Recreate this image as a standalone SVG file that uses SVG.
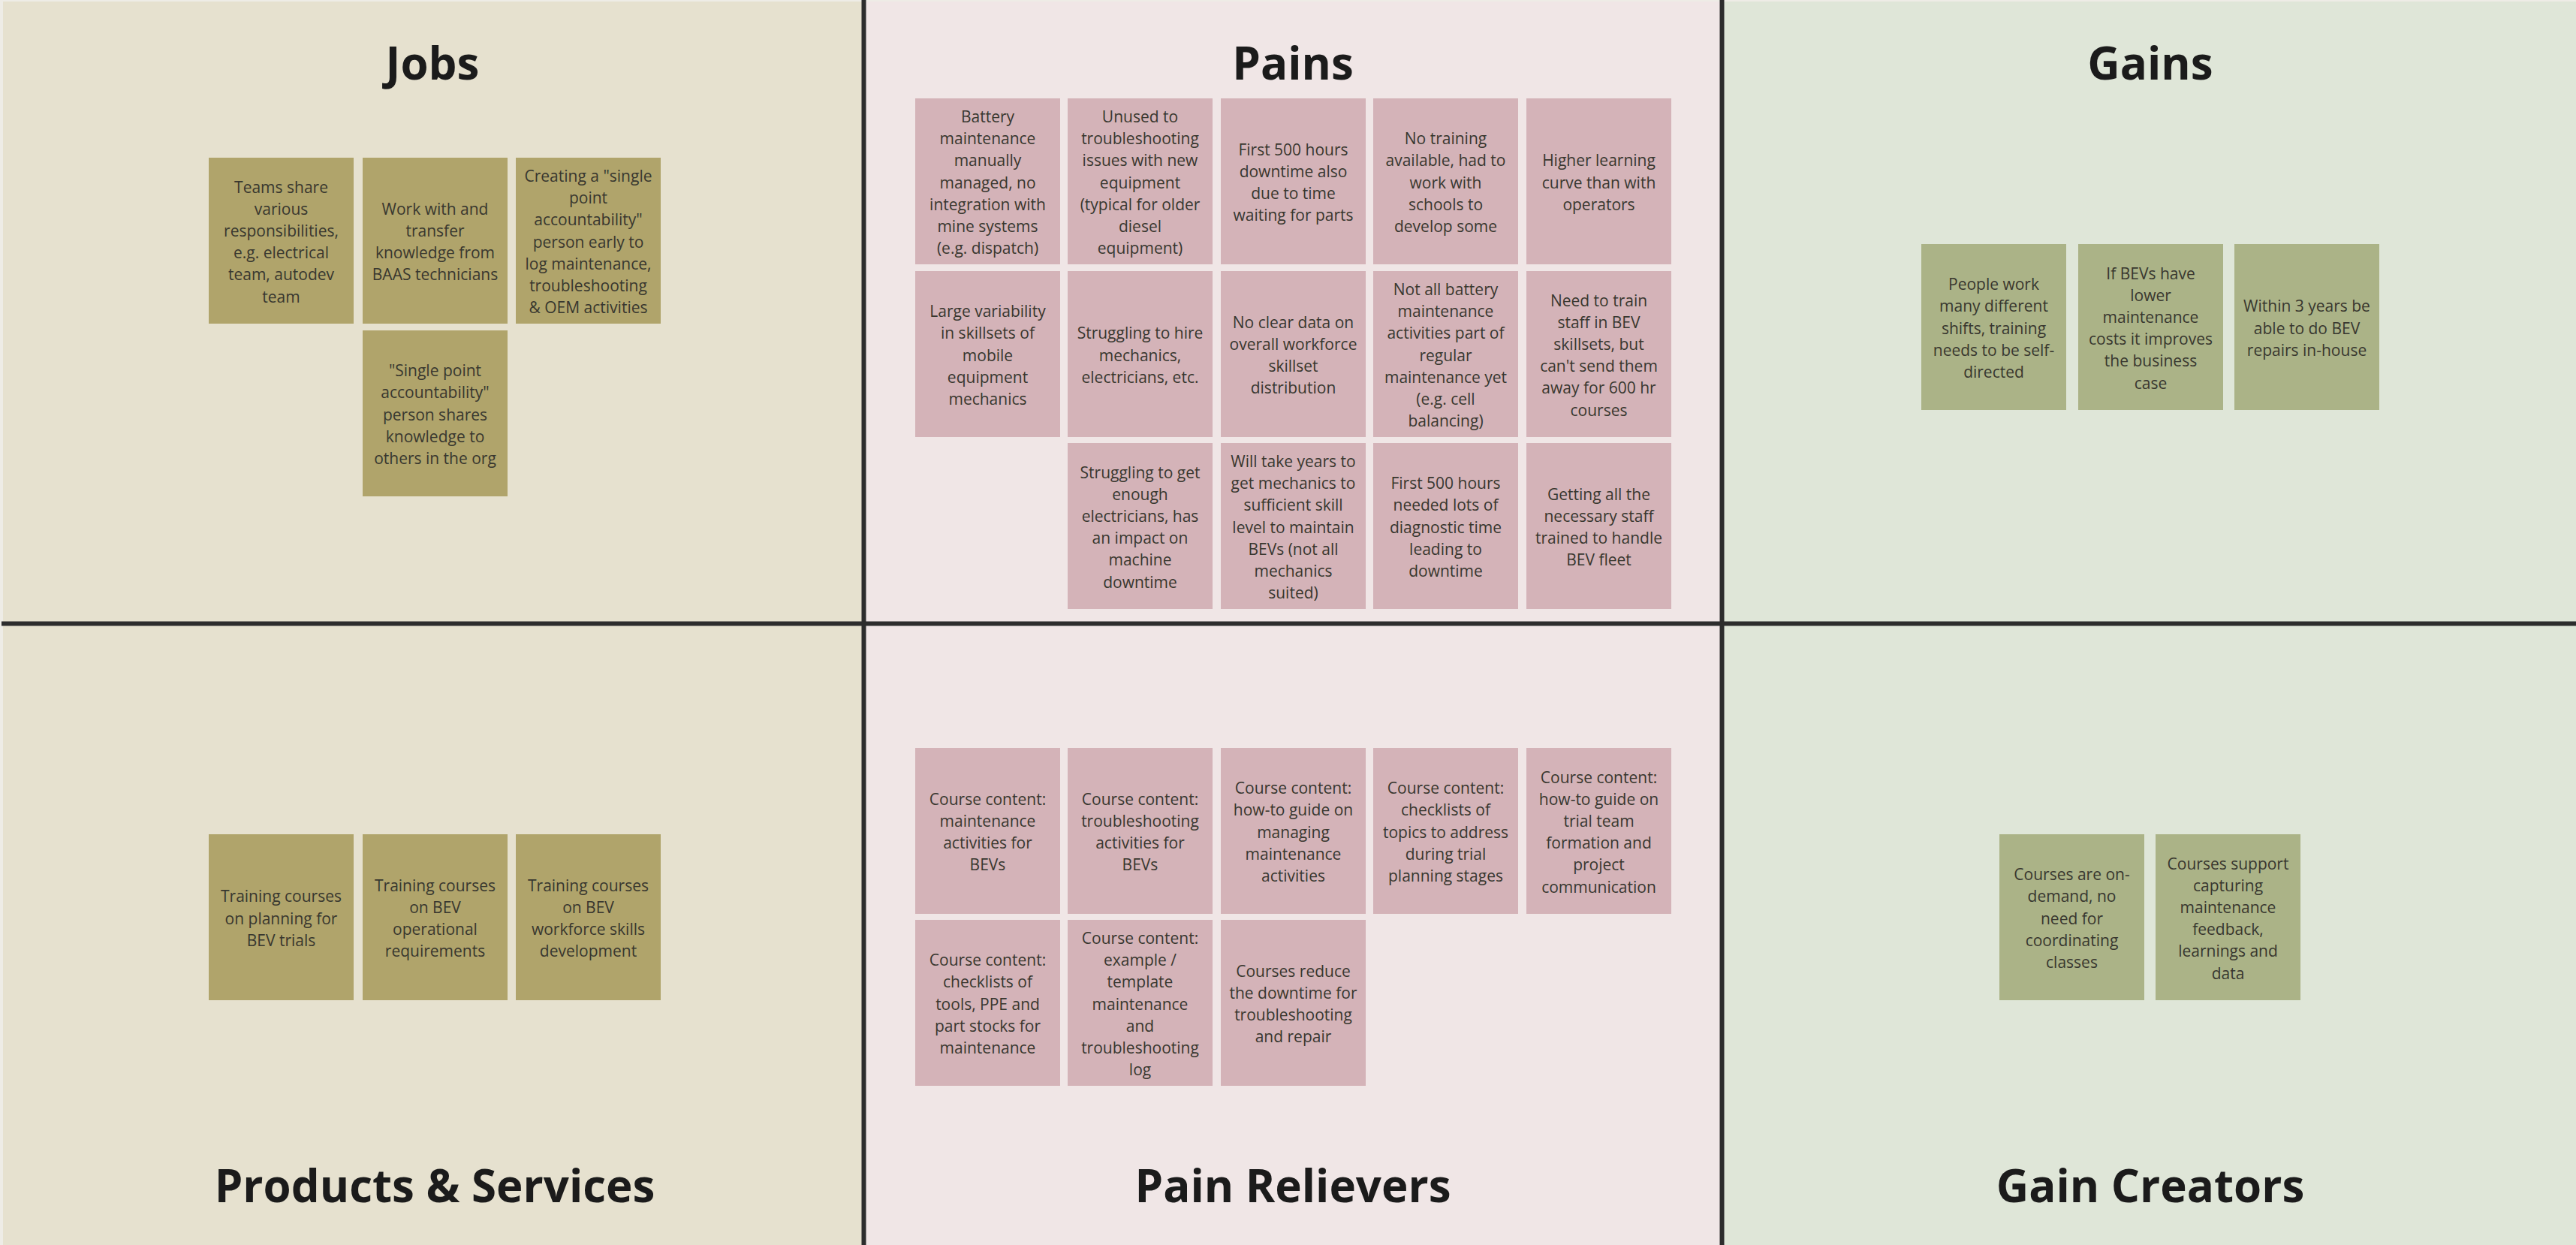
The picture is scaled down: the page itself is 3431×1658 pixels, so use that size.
<svg xmlns="http://www.w3.org/2000/svg" width="3431" height="1658" viewBox="0 0 3431 1658">
<style>
.title{font-family:"Open Sans","Liberation Sans",sans-serif;font-weight:700;font-size:60px;fill:#1b1b1b;text-anchor:middle}
.note text{font-family:"Open Sans","Liberation Sans",sans-serif;font-size:21px;fill:#38372f;text-anchor:middle}
.jobs rect{fill:#b0a46b}
.pains rect{fill:#d4b3b8}
.gains rect{fill:#abb387}
.divider{stroke:#2d2d2d;stroke-width:6;fill:none}
</style>
<rect x="0" y="0" width="3431" height="1658" fill="#eeece6"/>
<g id="backgrounds">
<rect x="4" y="2" width="1147" height="1656" fill="#e6e1cf"/>
<rect x="1151" y="2" width="1143" height="1656" fill="#f0e6e6"/>
<rect x="2294" y="2" width="1137" height="1656" fill="#dfe6d8"/>
</g>
<g id="titles">
<text class="title" x="576" y="106">Jobs</text>
<text class="title" x="1722" y="106">Pains</text>
<text class="title" x="2864" y="106">Gains</text>
<text class="title" x="579" y="1601">Products &amp; Services</text>
<text class="title" x="1722" y="1601">Pain Relievers</text>
<text class="title" x="2864" y="1601">Gain Creators</text>
</g>
<g id="connectors">
<line class="divider" x1="1150.5" y1="0" x2="1150.5" y2="1658"/>
<line class="divider" x1="2293.5" y1="0" x2="2293.5" y2="1658"/>
<line class="divider" x1="2" y1="830.5" x2="3431" y2="830.5"/>
</g>

<!-- Jobs -->
<g id="job1" class="note jobs" transform="translate(278,210)"><rect width="193" height="221"/><text x="96.5"><tspan x="96.5" y="46.5">Teams share</tspan><tspan x="96.5" y="75.7">various</tspan><tspan x="96.5" y="104.9">responsibilities,</tspan><tspan x="96.5" y="134.1">e.g. electrical</tspan><tspan x="96.5" y="163.3">team, autodev</tspan><tspan x="96.5" y="192.5">team</tspan></text></g>
<g id="job2" class="note jobs" transform="translate(483,210)"><rect width="193" height="221"/><text x="96.5"><tspan x="96.5" y="75.7">Work with and</tspan><tspan x="96.5" y="104.9">transfer</tspan><tspan x="96.5" y="134.1">knowledge from</tspan><tspan x="96.5" y="163.3">BAAS technicians</tspan></text></g>
<g id="job3" class="note jobs" transform="translate(687,210)"><rect width="193" height="221"/><text x="96.5"><tspan x="96.5" y="31.9">Creating a "single</tspan><tspan x="96.5" y="61.1">point</tspan><tspan x="96.5" y="90.3">accountability"</tspan><tspan x="96.5" y="119.5">person early to</tspan><tspan x="96.5" y="148.7">log maintenance,</tspan><tspan x="96.5" y="177.9">troubleshooting</tspan><tspan x="96.5" y="207.1">&amp; OEM activities</tspan></text></g>
<g id="job4" class="note jobs" transform="translate(483,440)"><rect width="193" height="221"/><text x="96.5"><tspan x="96.5" y="61.1">"Single point</tspan><tspan x="96.5" y="90.3">accountability"</tspan><tspan x="96.5" y="119.5">person shares</tspan><tspan x="96.5" y="148.7">knowledge to</tspan><tspan x="96.5" y="177.9">others in the org</tspan></text></g>

<!-- Pains row 1 -->
<g id="pain1" class="note pains" transform="translate(1219,131)"><rect width="193" height="221"/><text x="96.5"><tspan x="96.5" y="31.9">Battery</tspan><tspan x="96.5" y="61.1">maintenance</tspan><tspan x="96.5" y="90.3">manually</tspan><tspan x="96.5" y="119.5">managed, no</tspan><tspan x="96.5" y="148.7">integration with</tspan><tspan x="96.5" y="177.9">mine systems</tspan><tspan x="96.5" y="207.1">(e.g. dispatch)</tspan></text></g>
<g id="pain2" class="note pains" transform="translate(1422,131)"><rect width="193" height="221"/><text x="96.5"><tspan x="96.5" y="31.9">Unused to</tspan><tspan x="96.5" y="61.1">troubleshooting</tspan><tspan x="96.5" y="90.3">issues with new</tspan><tspan x="96.5" y="119.5">equipment</tspan><tspan x="96.5" y="148.7">(typical for older</tspan><tspan x="96.5" y="177.9">diesel</tspan><tspan x="96.5" y="207.1">equipment)</tspan></text></g>
<g id="pain3" class="note pains" transform="translate(1626,131)"><rect width="193" height="221"/><text x="96.5"><tspan x="96.5" y="75.7">First 500 hours</tspan><tspan x="96.5" y="104.9">downtime also</tspan><tspan x="96.5" y="134.1">due to time</tspan><tspan x="96.5" y="163.3">waiting for parts</tspan></text></g>
<g id="pain4" class="note pains" transform="translate(1829,131)"><rect width="193" height="221"/><text x="96.5"><tspan x="96.5" y="61.1">No training</tspan><tspan x="96.5" y="90.3">available, had to</tspan><tspan x="96.5" y="119.5">work with</tspan><tspan x="96.5" y="148.7">schools to</tspan><tspan x="96.5" y="177.9">develop some</tspan></text></g>
<g id="pain5" class="note pains" transform="translate(2033,131)"><rect width="193" height="221"/><text x="96.5"><tspan x="96.5" y="90.3">Higher learning</tspan><tspan x="96.5" y="119.5">curve than with</tspan><tspan x="96.5" y="148.7">operators</tspan></text></g>
<!-- Pains row 2 -->
<g id="pain6" class="note pains" transform="translate(1219,361)"><rect width="193" height="221"/><text x="96.5"><tspan x="96.5" y="61.1">Large variability</tspan><tspan x="96.5" y="90.3">in skillsets of</tspan><tspan x="96.5" y="119.5">mobile</tspan><tspan x="96.5" y="148.7">equipment</tspan><tspan x="96.5" y="177.9">mechanics</tspan></text></g>
<g id="pain7" class="note pains" transform="translate(1422,361)"><rect width="193" height="221"/><text x="96.5"><tspan x="96.5" y="90.3">Struggling to hire</tspan><tspan x="96.5" y="119.5">mechanics,</tspan><tspan x="96.5" y="148.7">electricians, etc.</tspan></text></g>
<g id="pain8" class="note pains" transform="translate(1626,361)"><rect width="193" height="221"/><text x="96.5"><tspan x="96.5" y="75.7">No clear data on</tspan><tspan x="96.5" y="104.9">overall workforce</tspan><tspan x="96.5" y="134.1">skillset</tspan><tspan x="96.5" y="163.3">distribution</tspan></text></g>
<g id="pain9" class="note pains" transform="translate(1829,361)"><rect width="193" height="221"/><text x="96.5"><tspan x="96.5" y="31.9">Not all battery</tspan><tspan x="96.5" y="61.1">maintenance</tspan><tspan x="96.5" y="90.3">activities part of</tspan><tspan x="96.5" y="119.5">regular</tspan><tspan x="96.5" y="148.7">maintenance yet</tspan><tspan x="96.5" y="177.9">(e.g. cell</tspan><tspan x="96.5" y="207.1">balancing)</tspan></text></g>
<g id="pain10" class="note pains" transform="translate(2033,361)"><rect width="193" height="221"/><text x="96.5"><tspan x="96.5" y="46.5">Need to train</tspan><tspan x="96.5" y="75.7">staff in BEV</tspan><tspan x="96.5" y="104.9">skillsets, but</tspan><tspan x="96.5" y="134.1">can't send them</tspan><tspan x="96.5" y="163.3">away for 600 hr</tspan><tspan x="96.5" y="192.5">courses</tspan></text></g>
<!-- Pains row 3 -->
<g id="pain11" class="note pains" transform="translate(1422,590)"><rect width="193" height="221"/><text x="96.5"><tspan x="96.5" y="46.5">Struggling to get</tspan><tspan x="96.5" y="75.7">enough</tspan><tspan x="96.5" y="104.9">electricians, has</tspan><tspan x="96.5" y="134.1">an impact on</tspan><tspan x="96.5" y="163.3">machine</tspan><tspan x="96.5" y="192.5">downtime</tspan></text></g>
<g id="pain12" class="note pains" transform="translate(1626,590)"><rect width="193" height="221"/><text x="96.5"><tspan x="96.5" y="31.9">Will take years to</tspan><tspan x="96.5" y="61.1">get mechanics to</tspan><tspan x="96.5" y="90.3">sufficient skill</tspan><tspan x="96.5" y="119.5">level to maintain</tspan><tspan x="96.5" y="148.7">BEVs (not all</tspan><tspan x="96.5" y="177.9">mechanics</tspan><tspan x="96.5" y="207.1">suited)</tspan></text></g>
<g id="pain13" class="note pains" transform="translate(1829,590)"><rect width="193" height="221"/><text x="96.5"><tspan x="96.5" y="61.1">First 500 hours</tspan><tspan x="96.5" y="90.3">needed lots of</tspan><tspan x="96.5" y="119.5">diagnostic time</tspan><tspan x="96.5" y="148.7">leading to</tspan><tspan x="96.5" y="177.9">downtime</tspan></text></g>
<g id="pain14" class="note pains" transform="translate(2033,590)"><rect width="193" height="221"/><text x="96.5"><tspan x="96.5" y="75.7">Getting all the</tspan><tspan x="96.5" y="104.9">necessary staff</tspan><tspan x="96.5" y="134.1">trained to handle</tspan><tspan x="96.5" y="163.3">BEV fleet</tspan></text></g>

<!-- Gains -->
<g id="gain1" class="note gains" transform="translate(2559,325)"><rect width="193" height="221"/><text x="96.5"><tspan x="96.5" y="61.1">People work</tspan><tspan x="96.5" y="90.3">many different</tspan><tspan x="96.5" y="119.5">shifts, training</tspan><tspan x="96.5" y="148.7">needs to be self-</tspan><tspan x="96.5" y="177.9">directed</tspan></text></g>
<g id="gain2" class="note gains" transform="translate(2768,325)"><rect width="193" height="221"/><text x="96.5"><tspan x="96.5" y="46.5">If BEVs have</tspan><tspan x="96.5" y="75.7">lower</tspan><tspan x="96.5" y="104.9">maintenance</tspan><tspan x="96.5" y="134.1">costs it improves</tspan><tspan x="96.5" y="163.3">the business</tspan><tspan x="96.5" y="192.5">case</tspan></text></g>
<g id="gain3" class="note gains" transform="translate(2976,325)"><rect width="193" height="221"/><text x="96.5"><tspan x="96.5" y="90.3">Within 3 years be</tspan><tspan x="96.5" y="119.5">able to do BEV</tspan><tspan x="96.5" y="148.7">repairs in-house</tspan></text></g>

<!-- Products & Services -->
<g id="prod1" class="note jobs" transform="translate(278,1111)"><rect width="193" height="221"/><text x="96.5"><tspan x="96.5" y="90.3">Training courses</tspan><tspan x="96.5" y="119.5">on planning for</tspan><tspan x="96.5" y="148.7">BEV trials</tspan></text></g>
<g id="prod2" class="note jobs" transform="translate(483,1111)"><rect width="193" height="221"/><text x="96.5"><tspan x="96.5" y="75.7">Training courses</tspan><tspan x="96.5" y="104.9">on BEV</tspan><tspan x="96.5" y="134.1">operational</tspan><tspan x="96.5" y="163.3">requirements</tspan></text></g>
<g id="prod3" class="note jobs" transform="translate(687,1111)"><rect width="193" height="221"/><text x="96.5"><tspan x="96.5" y="75.7">Training courses</tspan><tspan x="96.5" y="104.9">on BEV</tspan><tspan x="96.5" y="134.1">workforce skills</tspan><tspan x="96.5" y="163.3">development</tspan></text></g>

<!-- Pain Relievers row 1 -->
<g id="relief1" class="note pains" transform="translate(1219,996)"><rect width="193" height="221"/><text x="96.5"><tspan x="96.5" y="75.7">Course content:</tspan><tspan x="96.5" y="104.9">maintenance</tspan><tspan x="96.5" y="134.1">activities for</tspan><tspan x="96.5" y="163.3">BEVs</tspan></text></g>
<g id="relief2" class="note pains" transform="translate(1422,996)"><rect width="193" height="221"/><text x="96.5"><tspan x="96.5" y="75.7">Course content:</tspan><tspan x="96.5" y="104.9">troubleshooting</tspan><tspan x="96.5" y="134.1">activities for</tspan><tspan x="96.5" y="163.3">BEVs</tspan></text></g>
<g id="relief3" class="note pains" transform="translate(1626,996)"><rect width="193" height="221"/><text x="96.5"><tspan x="96.5" y="61.1">Course content:</tspan><tspan x="96.5" y="90.3">how-to guide on</tspan><tspan x="96.5" y="119.5">managing</tspan><tspan x="96.5" y="148.7">maintenance</tspan><tspan x="96.5" y="177.9">activities</tspan></text></g>
<g id="relief4" class="note pains" transform="translate(1829,996)"><rect width="193" height="221"/><text x="96.5"><tspan x="96.5" y="61.1">Course content:</tspan><tspan x="96.5" y="90.3">checklists of</tspan><tspan x="96.5" y="119.5">topics to address</tspan><tspan x="96.5" y="148.7">during trial</tspan><tspan x="96.5" y="177.9">planning stages</tspan></text></g>
<g id="relief5" class="note pains" transform="translate(2033,996)"><rect width="193" height="221"/><text x="96.5"><tspan x="96.5" y="46.5">Course content:</tspan><tspan x="96.5" y="75.7">how-to guide on</tspan><tspan x="96.5" y="104.9">trial team</tspan><tspan x="96.5" y="134.1">formation and</tspan><tspan x="96.5" y="163.3">project</tspan><tspan x="96.5" y="192.5">communication</tspan></text></g>
<!-- Pain Relievers row 2 -->
<g id="relief6" class="note pains" transform="translate(1219,1225)"><rect width="193" height="221"/><text x="96.5"><tspan x="96.5" y="61.1">Course content:</tspan><tspan x="96.5" y="90.3">checklists of</tspan><tspan x="96.5" y="119.5">tools, PPE and</tspan><tspan x="96.5" y="148.7">part stocks for</tspan><tspan x="96.5" y="177.9">maintenance</tspan></text></g>
<g id="relief7" class="note pains" transform="translate(1422,1225)"><rect width="193" height="221"/><text x="96.5"><tspan x="96.5" y="31.9">Course content:</tspan><tspan x="96.5" y="61.1">example /</tspan><tspan x="96.5" y="90.3">template</tspan><tspan x="96.5" y="119.5">maintenance</tspan><tspan x="96.5" y="148.7">and</tspan><tspan x="96.5" y="177.9">troubleshooting</tspan><tspan x="96.5" y="207.1">log</tspan></text></g>
<g id="relief8" class="note pains" transform="translate(1626,1225)"><rect width="193" height="221"/><text x="96.5"><tspan x="96.5" y="75.7">Courses reduce</tspan><tspan x="96.5" y="104.9">the downtime for</tspan><tspan x="96.5" y="134.1">troubleshooting</tspan><tspan x="96.5" y="163.3">and repair</tspan></text></g>

<!-- Gain Creators -->
<g id="creator1" class="note gains" transform="translate(2663,1111)"><rect width="193" height="221"/><text x="96.5"><tspan x="96.5" y="61.1">Courses are on-</tspan><tspan x="96.5" y="90.3">demand, no</tspan><tspan x="96.5" y="119.5">need for</tspan><tspan x="96.5" y="148.7">coordinating</tspan><tspan x="96.5" y="177.9">classes</tspan></text></g>
<g id="creator2" class="note gains" transform="translate(2871,1111)"><rect width="193" height="221"/><text x="96.5"><tspan x="96.5" y="46.5">Courses support</tspan><tspan x="96.5" y="75.7">capturing</tspan><tspan x="96.5" y="104.9">maintenance</tspan><tspan x="96.5" y="134.1">feedback,</tspan><tspan x="96.5" y="163.3">learnings and</tspan><tspan x="96.5" y="192.5">data</tspan></text></g>
</svg>
